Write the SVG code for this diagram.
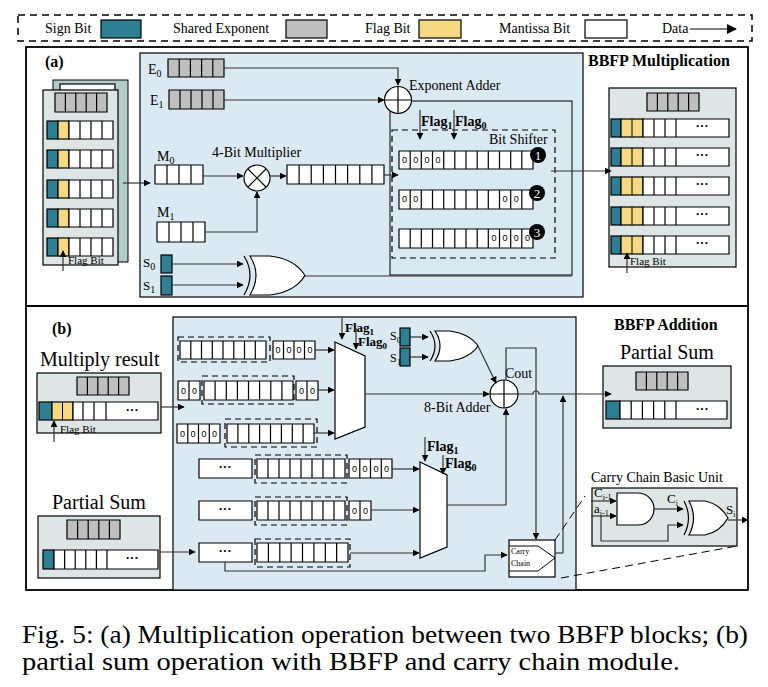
<svg xmlns="http://www.w3.org/2000/svg" width="768" height="687" viewBox="0 0 768 687" font-family="'Liberation Serif','Times New Roman','DejaVu Serif',serif">
<defs>
<marker id="ah" viewBox="0 0 10 10" refX="9" refY="5" markerWidth="7" markerHeight="7" markerUnits="userSpaceOnUse" orient="auto"><path d="M0,0L10,5L0,10z" fill="#000"/></marker>
<marker id="ah2" viewBox="0 0 10 10" refX="9" refY="5" markerWidth="10" markerHeight="10" markerUnits="userSpaceOnUse" orient="auto"><path d="M0,0L10,5L0,10z" fill="#000"/></marker>
</defs>
<style>
text{font-family:'Liberation Serif','Times New Roman','DejaVu Serif',serif;fill:#000}
text.z{font-family:'Liberation Sans',Arial,sans-serif;font-size:9px}
.w{fill:#fff;stroke:#000;stroke-width:1.2}
.g{fill:#bfbfbf;stroke:#000;stroke-width:1.2}
.t{fill:#2e7f93;stroke:#000;stroke-width:1.2}
.y{fill:#f5d983;stroke:#000;stroke-width:1.2}
.ln{fill:none;stroke:#333;stroke-width:1.2}
.a{fill:none;stroke:#333;stroke-width:1.2;marker-end:url(#ah)}
.dash{fill:none;stroke:#000;stroke-width:1.2;stroke-dasharray:6,4}
.blk{fill:#dde6e4;stroke:#000;stroke-width:1.2}
.pan{fill:#dbeaf2;stroke:#000;stroke-width:1.2}
.b{font-weight:bold}
text.wt{fill:#fff}
</style>

<g id="legend">
<rect x="18" y="15" width="734" height="26" fill="none" stroke="#000" stroke-width="1.5" stroke-dasharray="7,5"/>
<text x="45" y="33" font-size="14">Sign Bit</text>
<rect x="101" y="20" width="40" height="18" class="t"/>
<text x="173" y="33" font-size="14">Shared Exponent</text>
<rect x="286" y="20" width="41" height="18" class="g"/>
<text x="365" y="33" font-size="14">Flag Bit</text>
<rect x="419" y="20" width="42" height="18" class="y"/>
<text x="499" y="33" font-size="14">Mantissa Bit</text>
<rect x="585" y="20" width="42" height="18" class="w"/>
<text x="662" y="33" font-size="14">Data</text>
<path d="M690 29H736" stroke="#000" stroke-width="1.2" marker-end="url(#ah2)"/>
</g>

<g id="frames">
<rect x="26" y="47" width="722" height="543" fill="none" stroke="#000" stroke-width="1.8"/>
<line x1="26" y1="306" x2="748" y2="306" stroke="#000" stroke-width="1.8"/>
</g>

<g id="panelA">
<rect x="140" y="53" width="443" height="244" class="pan"/>
<rect x="390" y="101" width="182" height="174" fill="#d9e9f1" stroke="#000" stroke-width="1"/>
<text x="45" y="67" font-size="16" class="b">(a)</text>
<text x="588" y="66" font-size="16" class="b">BBFP Multiplication</text>
</g>

<g id="inputBlockA">
<rect x="53" y="80" width="75" height="182" fill="#b4ccc8" stroke="#000"/>
<rect x="60" y="84" width="55" height="8" class="w"/>
<rect x="43" y="90" width="75" height="175" class="blk"/>
<path d="M55 93h52v19h-52z M65.4 93v19 M75.8 93v19 M86.2 93v19 M96.6 93v19" class="g"/>
<rect x="47" y="121" width="11" height="18" class="t"/><rect x="58" y="121" width="11" height="18" class="y"/><path d="M69 121h44v18h-44z M80 121v18 M91 121v18 M102 121v18" class="w"/>
<rect x="47" y="150" width="11" height="18" class="t"/><rect x="58" y="150" width="11" height="18" class="y"/><path d="M69 150h44v18h-44z M80 150v18 M91 150v18 M102 150v18" class="w"/>
<rect x="47" y="180" width="11" height="18" class="t"/><rect x="58" y="180" width="11" height="18" class="y"/><path d="M69 180h44v18h-44z M80 180v18 M91 180v18 M102 180v18" class="w"/>
<rect x="47" y="209" width="11" height="18" class="t"/><rect x="58" y="209" width="11" height="18" class="y"/><path d="M69 209h44v18h-44z M80 209v18 M91 209v18 M102 209v18" class="w"/>
<rect x="47" y="238" width="11" height="18" class="t"/><rect x="58" y="238" width="11" height="18" class="y"/><path d="M69 238h44v18h-44z M80 238v18 M91 238v18 M102 238v18" class="w"/>
<text x="68" y="264" font-size="11">Flag Bit</text>
</g>

<g id="E0"><text x="148" y="74" font-size="14">E<tspan font-size="10" dy="3">0</tspan></text>
<path d="M168 59h56v18h-56z M179.2 59v18 M190.4 59v18 M201.6 59v18 M212.8 59v18" class="g"/></g>
<g id="E1"><text x="150" y="105" font-size="14">E<tspan font-size="10" dy="3">1</tspan></text>
<path d="M169 90h55v19h-55z M180 90v19 M191 90v19 M202 90v19 M213 90v19" class="g"/></g>
<g id="expAdder"><circle cx="398" cy="100" r="13.5" fill="#fff" stroke="#000" stroke-width="1.2"/><path d="M384.5 100h27M398 86.5v27" stroke="#000" stroke-width="1.2"/>
<text x="409" y="90" font-size="14">Exponent Adder</text></g>

<g id="M0"><text x="157" y="161" font-size="14">M<tspan font-size="10" dy="3">0</tspan></text>
<path d="M155 165h48v19h-48z M167 165v19 M179 165v19 M191 165v19" class="w"/></g>
<g id="M1"><text x="157" y="217" font-size="14">M<tspan font-size="10" dy="3">1</tspan></text>
<path d="M157 222h48v20h-48z M169 222v20 M181 222v20 M193 222v20" class="w"/></g>
<g id="multiplier"><circle cx="257" cy="178" r="13" fill="#fff" stroke="#000" stroke-width="1.2"/><path d="M248 169l18 18M266 169l-18 18" stroke="#000" stroke-width="1.2"/>
<text x="212" y="157" font-size="14">4-Bit Multiplier</text></g>
<g id="product"><path d="M287 165h97v19h-97z M299.1 165v19 M311.2 165v19 M323.4 165v19 M335.5 165v19 M347.6 165v19 M359.8 165v19 M371.9 165v19" class="w"/></g>

<g id="S0a"><text x="143" y="267" font-size="13">S<tspan font-size="10" dy="3">0</tspan></text><rect x="161" y="255" width="11" height="18" class="t"/></g>
<g id="S1a"><text x="143" y="290" font-size="13">S<tspan font-size="10" dy="3">1</tspan></text><rect x="161" y="276" width="11" height="19" class="t"/></g>
<g id="xorA"><path d="M250 256Q262 275 250 295H270Q295 292 305 275.5Q295 259 270 256Z" fill="#fff" stroke="#000" stroke-width="1.2"/><path d="M244 256Q256 275 244 295" fill="none" stroke="#000" stroke-width="1.2"/></g>

<g id="bitShifter">
<rect x="392" y="130" width="163" height="128" class="dash"/>
<text x="489" y="144" font-size="14">Bit Shifter</text>
<text x="421" y="126" font-size="14" class="b">Flag<tspan font-size="10" dy="3">1</tspan></text>
<text x="455" y="126" font-size="14" class="b">Flag<tspan font-size="10" dy="3">0</tspan></text>
<path d="M399 151h134v18h-134z M410.2 151v18 M421.3 151v18 M432.5 151v18 M443.7 151v18 M454.8 151v18 M466 151v18 M477.2 151v18 M488.3 151v18 M499.5 151v18 M510.7 151v18 M521.8 151v18" class="w"/>
<path d="M399 190h134v19h-134z M410.2 190v19 M421.3 190v19 M432.5 190v19 M443.7 190v19 M454.8 190v19 M466 190v19 M477.2 190v19 M488.3 190v19 M499.5 190v19 M510.7 190v19 M521.8 190v19" class="w"/>
<path d="M399 229h134v19h-134z M410.2 229v19 M421.3 229v19 M432.5 229v19 M443.7 229v19 M454.8 229v19 M466 229v19 M477.2 229v19 M488.3 229v19 M499.5 229v19 M510.7 229v19 M521.8 229v19" class="w"/>
<g text-anchor="middle">
<text class="z" x="404.6" y="163">0</text><text class="z" x="415.8" y="163">0</text><text class="z" x="426.9" y="163">0</text><text class="z" x="438.1" y="163">0</text>
<text class="z" x="404.6" y="202">0</text><text class="z" x="415.8" y="202">0</text><text class="z" x="505.1" y="202">0</text><text class="z" x="516.3" y="202">0</text>
<text class="z" x="494" y="241">0</text><text class="z" x="505.1" y="241">0</text><text class="z" x="516.3" y="241">0</text><text class="z" x="527.4" y="241">0</text>
</g>
<circle cx="538" cy="155" r="8" fill="#000"/><text class="wt" x="538" y="160" font-size="13" text-anchor="middle">1</text>
<circle cx="537" cy="193" r="8" fill="#000"/><text class="wt" x="537" y="198" font-size="13" text-anchor="middle">2</text>
<circle cx="537" cy="232" r="8" fill="#000"/><text class="wt" x="537" y="237" font-size="13" text-anchor="middle">3</text>
</g>

<g id="outputBlockA">
<rect x="609" y="88" width="127" height="179" class="blk"/>
<path d="M647 93h52v18h-52z M657.4 93v18 M667.8 93v18 M678.2 93v18 M688.6 93v18" class="g"/>
<rect x="611" y="119" width="10" height="18" class="t"/><rect x="621" y="119" width="22" height="18" class="y"/><path d="M632 119v18" stroke="#000"/><path d="M643 119h86v18h-86z M654 119v18 M665 119v18 M676 119v18" class="w"/>
<rect x="611" y="148" width="10" height="18" class="t"/><rect x="621" y="148" width="22" height="18" class="y"/><path d="M632 148v18" stroke="#000"/><path d="M643 148h86v18h-86z M654 148v18 M665 148v18 M676 148v18" class="w"/>
<rect x="611" y="177" width="10" height="18" class="t"/><rect x="621" y="177" width="22" height="18" class="y"/><path d="M632 177v18" stroke="#000"/><path d="M643 177h86v18h-86z M654 177v18 M665 177v18 M676 177v18" class="w"/>
<rect x="611" y="207" width="10" height="18" class="t"/><rect x="621" y="207" width="22" height="18" class="y"/><path d="M632 207v18" stroke="#000"/><path d="M643 207h86v18h-86z M654 207v18 M665 207v18 M676 207v18" class="w"/>
<rect x="611" y="236" width="10" height="18" class="t"/><rect x="621" y="236" width="22" height="18" class="y"/><path d="M632 236v18" stroke="#000"/><path d="M643 236h86v18h-86z M654 236v18 M665 236v18 M676 236v18" class="w"/>
<g font-size="13" text-anchor="middle" class="b"><text x="702" y="130">···</text><text x="702" y="159">···</text><text x="702" y="188">···</text><text x="702" y="218">···</text><text x="702" y="247">···</text></g>
<text x="630" y="265" font-size="11">Flag Bit</text>
</g>

<g id="panelB">
<rect x="173" y="317" width="403" height="273" class="pan"/>
<text x="52" y="334" font-size="16" class="b">(b)</text>
<text x="614" y="330" font-size="16" class="b">BBFP Addition</text>
</g>

<g id="multiplyResult">
<text x="40" y="366" font-size="20">Multiply result</text>
<rect x="37" y="373" width="124" height="60" class="blk"/>
<path d="M77 377h52v18h-52z M87.4 377v18 M97.8 377v18 M108.2 377v18 M118.6 377v18" class="g"/>
<rect x="39" y="402" width="13" height="18" class="t"/><rect x="52" y="402" width="21" height="18" class="y"/><path d="M62.5 402v18" stroke="#000"/>
<path d="M73 402h85v18h-85z M83 402v18 M94 402v18 M106 402v18" class="w"/>
<text x="132" y="414" font-size="13" text-anchor="middle" class="b">···</text>
<text x="60" y="433" font-size="11">Flag Bit</text>
</g>

<g id="partialSumIn">
<text x="52" y="509" font-size="20">Partial Sum</text>
<rect x="38" y="516" width="122" height="62" class="blk"/>
<path d="M67 520h53v19h-53z M77.6 520v19 M88.2 520v19 M98.8 520v19 M109.4 520v19" class="g"/>
<rect x="43" y="550" width="11" height="19" class="t"/>
<path d="M54 550h104v19h-104z M64.6 550v19 M75.2 550v19 M85.8 550v19 M96.4 550v19 M107 550v19" class="w"/>
<text x="132" y="562" font-size="13" text-anchor="middle" class="b">···</text>
</g>

<g id="alignRows">
<rect x="178" y="337" width="92" height="25" class="dash"/>
<path d="M180 341h86v18h-86z M190.8 341v18 M201.5 341v18 M212.3 341v18 M223 341v18 M233.8 341v18 M244.5 341v18 M255.3 341v18" class="w"/>
<path d="M273 341h42v18h-42z M283.5 341v18 M294 341v18 M304.5 341v18" class="w"/>
<path d="M178 381h22v19h-22z M189 381v19" class="w"/>
<rect x="202" y="376" width="92" height="28" class="dash"/>
<path d="M204 381h89v19h-89z M215.1 381v19 M226.3 381v19 M237.4 381v19 M248.5 381v19 M259.6 381v19 M270.8 381v19 M281.9 381v19" class="w"/>
<path d="M296 381h22v19h-22z M307 381v19" class="w"/>
<path d="M177 424h43v19h-43z M187.8 424v19 M198.5 424v19 M209.3 424v19" class="w"/>
<rect x="225" y="419" width="92" height="28" class="dash"/>
<path d="M227 424h87v19h-87z M237.9 424v19 M248.8 424v19 M259.6 424v19 M270.5 424v19 M281.4 424v19 M292.3 424v19 M303.1 424v19" class="w"/>
<g text-anchor="middle">
<text class="z" x="278" y="353">0</text><text class="z" x="289" y="353">0</text><text class="z" x="299" y="353">0</text><text class="z" x="310" y="353">0</text>
<text class="z" x="183.5" y="394">0</text><text class="z" x="194.5" y="394">0</text><text class="z" x="301.5" y="394">0</text><text class="z" x="312.5" y="394">0</text>
<text class="z" x="182.5" y="437">0</text><text class="z" x="193" y="437">0</text><text class="z" x="204" y="437">0</text><text class="z" x="214.5" y="437">0</text>
</g>
</g>

<g id="mux1"><path d="M335 342L365 356V427L335 439Z" fill="#fff" stroke="#000" stroke-width="1.2"/>
<text x="345" y="332" font-size="13" class="b">Flag<tspan font-size="9" dy="3">1</tspan></text>
<text x="358" y="346" font-size="13" class="b">Flag<tspan font-size="9" dy="3">0</tspan></text></g>

<g id="signXorB">
<text x="390" y="340" font-size="12">S<tspan font-size="9" dy="3">0</tspan></text><rect x="400" y="328" width="10" height="18" class="t"/>
<text x="390" y="362" font-size="12">S<tspan font-size="9" dy="3">1</tspan></text><rect x="400" y="348" width="10" height="18" class="t"/>
<path d="M435 331Q445 346 435 361H450Q470 358 478 346Q470 334 450 331Z" fill="#fff" stroke="#000" stroke-width="1.2"/>
<path d="M430 331Q440 346 430 361" fill="none" stroke="#000" stroke-width="1.2"/>
</g>

<g id="adder8"><circle cx="504" cy="394" r="14" fill="#fff" stroke="#000" stroke-width="1.2"/><path d="M490 394h28M504 380v28" stroke="#000" stroke-width="1.2"/>
<text x="424" y="412" font-size="14">8-Bit Adder</text><text x="505" y="378" font-size="14">Cout</text></g>

<g id="partialRows">
<path d="M199 459h53v19h-53z" class="w"/><rect x="255" y="455" width="92" height="28" class="dash"/>
<path d="M257 459h88v19h-88z M268 459v19 M279 459v19 M290 459v19 M301 459v19 M312 459v19 M323 459v19 M334 459v19" class="w"/>
<path d="M349 459h43v19h-43z M359.8 459v19 M370.5 459v19 M381.3 459v19" class="w"/>
<path d="M199 501h53v19h-53z" class="w"/><rect x="255" y="497" width="92" height="28" class="dash"/>
<path d="M257 501h88v19h-88z M268 501v19 M279 501v19 M290 501v19 M301 501v19 M312 501v19 M323 501v19 M334 501v19" class="w"/>
<path d="M349 501h22v19h-22z M360 501v19" class="w"/>
<path d="M199 543h53v19h-53z" class="w"/><rect x="255" y="539" width="95" height="28" class="dash"/>
<path d="M257 543h91v19h-91z M268.4 543v19 M279.8 543v19 M291.1 543v19 M302.5 543v19 M313.9 543v19 M325.3 543v19 M336.6 543v19" class="w"/>
<g font-size="13" text-anchor="middle" class="b"><text x="225" y="471">···</text><text x="225" y="513">···</text><text x="225" y="555">···</text></g>
<g text-anchor="middle">
<text class="z" x="354.4" y="472">0</text><text class="z" x="365.1" y="472">0</text><text class="z" x="375.9" y="472">0</text><text class="z" x="386.6" y="472">0</text>
<text class="z" x="354.5" y="514">0</text><text class="z" x="365.5" y="514">0</text>
</g>
</g>

<g id="mux2"><path d="M420 462L447 475V547L420 558Z" fill="#fff" stroke="#000" stroke-width="1.2"/>
<text x="427" y="451" font-size="14" class="b">Flag<tspan font-size="10" dy="3">1</tspan></text>
<text x="445" y="468" font-size="14" class="b">Flag<tspan font-size="10" dy="3">0</tspan></text></g>

<g id="carryChain"><rect x="509" y="540" width="46" height="37" fill="#fff" stroke="#000" stroke-width="1.2"/>
<path d="M509 546H538L555 558L538 571H509" fill="none" stroke="#000" stroke-width="1"/>
<text x="511" y="554" font-size="8">Carry</text><text x="511" y="566" font-size="8">Chain</text></g>

<g id="partialSumOut">
<text x="620" y="359" font-size="20">Partial Sum</text>
<rect x="603" y="366" width="128" height="62" class="blk"/>
<path d="M636 372h52v18h-52z M646.4 372v18 M656.8 372v18 M667.2 372v18 M677.6 372v18" class="g"/>
<rect x="606" y="401" width="14" height="18" class="t"/>
<path d="M620 401h107v18h-107z M631.2 401v18 M642.4 401v18 M653.6 401v18 M664.8 401v18 M676 401v18" class="w"/>
<text x="702" y="413" font-size="13" text-anchor="middle" class="b">···</text>
</g>

<g id="carryUnit">
<text x="591" y="482" font-size="14">Carry Chain Basic Unit</text>
<rect x="592" y="488" width="145" height="58" class="blk"/>
<path d="M617 493H638A16 16 0 0 1 638 525H617Z" fill="#fff" stroke="#000" stroke-width="1.2"/>
<path d="M689 501Q698 518 689 535H705Q720 532 728 518Q720 504 705 501Z" fill="#fff" stroke="#000" stroke-width="1.2"/>
<path d="M684 501Q693 518 684 535" fill="none" stroke="#000" stroke-width="1.2"/>
<text x="594" y="497" font-size="13">C<tspan font-size="8" dy="3">i-1</tspan></text>
<text x="594" y="513" font-size="13">a<tspan font-size="8" dy="3">i-1</tspan></text>
<text x="667" y="503" font-size="13">C<tspan font-size="8" dy="3">i</tspan></text>
<text x="726" y="514" font-size="13">S<tspan font-size="8" dy="3">i</tspan></text>
</g>

<g id="connectors">
<path d="M123 183H150" class="a"/>
<path d="M224 68H398V85" class="a"/>
<path d="M224 100H384" class="a"/>
<path d="M420 110V139" class="a"/>
<path d="M454 110V139" class="a"/>
<path d="M203 176H243" class="a"/>
<path d="M270 176H286" class="a"/>
<path d="M205 232H257V192" class="a"/>
<path d="M384 175H398" class="a"/>
<path d="M172 264H243" class="a"/>
<path d="M172 285H243" class="a"/>
<path d="M305 276H572" class="ln"/>
<path d="M551 171H611" class="a"/>
<path d="M63 271V251" class="a"/>
<path d="M627 273V253" class="a"/>
<path d="M161 407H184" class="a"/>
<path d="M54 442V421" class="a"/>
<path d="M160 552H195" class="a"/>
<path d="M315 350H334" class="a"/>
<path d="M318 390H334" class="a"/>
<path d="M314 433H334" class="a"/>
<path d="M342 318V339" class="a"/>
<path d="M356 328V349" class="a"/>
<path d="M410 337H428" class="a"/>
<path d="M410 357H428" class="a"/>
<path d="M478 346L496 383" class="a"/>
<path d="M365 394H489" class="a"/>
<path d="M518 394H533A3 3 0 0 1 539 394H611" class="a"/>
<path d="M506 380V348H536V539" class="a"/>
<path d="M563 553V396" class="a"/>
<path d="M555 553H563" class="ln"/>
<path d="M392 469H419" class="a"/>
<path d="M371 510H419" class="a"/>
<path d="M350 553H419" class="a"/>
<path d="M425 437V461" class="a"/>
<path d="M443 455V474" class="a"/>
<path d="M447 505H506V409" class="a"/>
<path d="M225 562V571H485V555H507" class="a"/>
<path d="M591 501H616" class="a"/>
<path d="M591 516H616" class="a"/>
<path d="M654 509H683" class="a"/>
<path d="M601 516V541H668V525H683" class="a"/>
<path d="M728 520H748" class="a"/>
<path d="M555 540L585 496M561 578L737 546" stroke="#000" stroke-width="1" stroke-dasharray="8,5" fill="none"/>
</g>

<g id="caption">
<text x="22" y="643" font-size="26" textLength="726" lengthAdjust="spacingAndGlyphs">Fig. 5: (a) Multiplication operation between two BBFP blocks; (b)</text>
<text x="22" y="670" font-size="26" textLength="658" lengthAdjust="spacingAndGlyphs">partial sum operation with BBFP and carry chain module.</text>
</g>
</svg>
